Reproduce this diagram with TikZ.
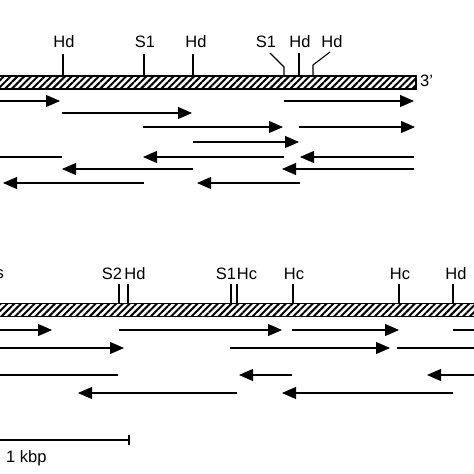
\documentclass[tikz,border=0pt]{standalone}
\usepackage{fontspec}
\setmainfont{Liberation Sans}
\usetikzlibrary{arrows.meta,patterns.meta}
\tikzset{
  site/.style={inner sep=0pt, font=\fontsize{16.5}{18}\selectfont},
  dna/.style={draw, line width=1.3pt, inner sep=0pt, anchor=north west,
    minimum height=13pt, pattern={Lines[angle=45,distance=4.8pt,line width=2pt]}},
  cut/.style={line width=1.1pt},
  frag/.style={line width=1.1pt},
  seq/.style={frag, -{Triangle[length=14pt,width=12pt]}},
}

\begin{document}
\begin{tikzpicture}[x=1pt,y=-1pt]
  \useasboundingbox (0,0) rectangle (474,474);
  \clip (0,0) rectangle (474,474);

  % Define nodes
  \node[dna, minimum width=418pt] (topdna) at (-3,75) {};
  \node[dna, minimum width=490pt] (botdna) at (-3,303) {};
  \node[site, anchor=west] (three) at (420,81) {3'};

  \node[site] (hdA) at (64,42) {Hd};
  \node[site] (sA)  at (145,42) {S1};
  \node[site] (hdB) at (196,42) {Hd};
  \node[site] (sB)  at (266,42) {S1};
  \node[site] (hdC) at (300,42) {Hd};
  \node[site] (hdD) at (332,42) {Hd};

  \node[site, anchor=east] (hs) at (4,274) {s};
  \node[site] (sC)  at (112,274) {S2};
  \node[site] (hdE) at (135,274) {Hd};
  \node[site] (sD)  at (226,274) {S1};
  \node[site] (hcA) at (247,274) {Hc};
  \node[site] (hcB) at (294,274) {Hc};
  \node[site] (hcC) at (400,274) {Hc};
  \node[site] (hdF) at (456,274) {Hd};

  % Cut sites
  \draw[cut] (63,54) -- (63,75);
  \draw[cut] (144,54) -- (144,75);
  \draw[cut] (193,54) -- (193,75);
  \draw[cut] (270,53) -- (284,67) -- (284,75);
  \draw[cut] (299,53) -- (299,75);
  \draw[cut] (330,52) -- (313,65) -- (313,75);

  \draw[cut] (119,284) -- (119,303);
  \draw[cut] (128,284) -- (128,303);
  \draw[cut] (231,284) -- (231,303);
  \draw[cut] (237,284) -- (237,303);
  \draw[cut] (293,284) -- (293,303);
  \draw[cut] (399,284) -- (399,303);
  \draw[cut] (453,284) -- (453,303);

  % Sequenced fragments, upper map
  \draw[seq] (-3,101) -- (60,101);
  \draw[seq] (284,101) -- (414,101);
  \draw[seq] (62,113) -- (192,113);
  \draw[seq] (143,127) -- (283,127);
  \draw[seq] (299,127) -- (415,127);
  \draw[seq] (193,142) -- (299,142);
  \draw[frag] (-3,157) -- (62,157);
  \draw[seq] (284,157) -- (143,157);
  \draw[seq] (414,157) -- (300,157);
  \draw[seq] (193,169) -- (62,169);
  \draw[seq] (414,169) -- (282,169);
  \draw[seq] (144,183) -- (3,183);
  \draw[seq] (300,183) -- (197,183);

  % Sequenced fragments, lower map
  \draw[seq] (-3,330) -- (52,330);
  \draw[seq] (119,330) -- (282,330);
  \draw[seq] (292,330) -- (399,330);
  \draw[frag] (453,330) -- (480,330);
  \draw[seq] (-3,348) -- (124,348);
  \draw[seq] (230,348) -- (390,348);
  \draw[frag] (397,348) -- (480,348);
  \draw[frag] (-3,375) -- (118,375);
  \draw[seq] (292,375) -- (239,375);
  \draw[seq] (480,375) -- (427,375);
  \draw[seq] (237,393) -- (78,393);
  \draw[seq] (453,393) -- (282,393);

  % Scale
  \draw[frag] (-3,440) -- (129,440);
  \draw[cut] (129,435) -- (129,445);
  \node[site, anchor=west] (kbp) at (6,458) {1 kbp};
\end{tikzpicture}
\end{document}
